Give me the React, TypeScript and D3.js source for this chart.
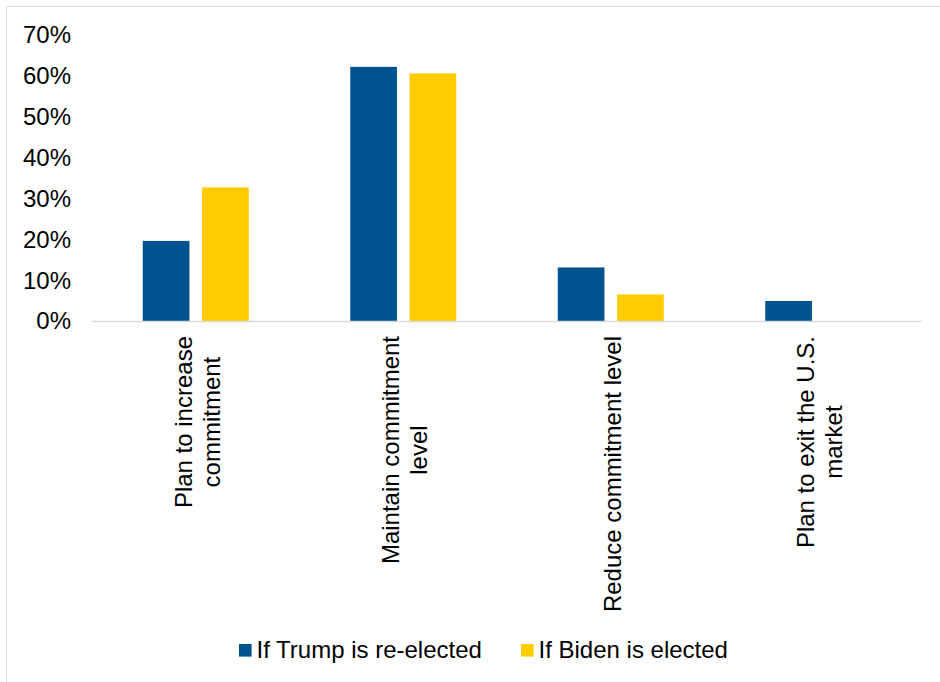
import React, { useEffect, useRef } from "react";
import * as d3 from "d3";

const categories: string[][] = [
  ["Plan to increase", "commitment"],
  ["Maintain commitment", "level"],
  ["Reduce commitment level"],
  ["Plan to exit the U.S.", "market"],
];
const seriesNames = ["If Trump is re-elected", "If Biden is elected"];
const trumpValues = [19.6, 62.2, 13.1, 4.9];
const bidenValues = [32.7, 60.6, 6.5, 0];
const yTicks = [0, 10, 20, 30, 40, 50, 60, 70];
const colors = ["#00538F", "#FFCC00"];

const W = 940;
const H = 682;
const FONT = "'Liberation Sans', Arial, sans-serif";
const FS = 24;

export default function App() {
  const ref = useRef<SVGSVGElement | null>(null);

  useEffect(() => {
    const svg = d3.select(ref.current);
    svg.selectAll("*").remove();

    // outer border
    svg
      .append("rect")
      .attr("x", 6.5)
      .attr("y", 6.5)
      .attr("width", W + 20)
      .attr("height", H + 20)
      .attr("fill", "white")
      .attr("stroke", "#d9d9d9")
      .attr("stroke-width", 1);

    const x0 = d3.scaleBand<number>().domain(d3.range(categories.length)).range([92, 922]);
    const y = d3.scaleLinear().domain([0, 70]).range([321, 35]);
    const barW = 46.7;
    const gap = 12.6;

    // y tick labels
    svg
      .append("g")
      .selectAll("text")
      .data(yTicks)
      .join("text")
      .attr("x", 71)
      .attr("y", (d) => y(d))
      .attr("dy", "0.35em")
      .attr("text-anchor", "end")
      .attr("font-family", FONT)
      .attr("font-size", FS)
      .attr("fill", "#000")
      .text((d) => `${d}%`);

    const data = categories.map((_, i) => [trumpValues[i], bidenValues[i]]);

    const groups = svg
      .append("g")
      .selectAll("g")
      .data(data)
      .join("g")
      .attr("transform", (_, i) => `translate(${x0(i)! + x0.bandwidth() / 2},0)`);

    groups
      .selectAll("rect")
      .data((d) => d)
      .join("rect")
      .attr("x", (_, j) => (j === 0 ? -gap / 2 - barW : gap / 2))
      .attr("width", barW)
      .attr("y", (d) => y(d))
      .attr("height", (d) => y(0) - y(d))
      .attr("fill", (_, j) => colors[j]);

    // axis line
    svg
      .append("line")
      .attr("x1", 92)
      .attr("x2", 922)
      .attr("y1", y(0) + 0.5)
      .attr("y2", y(0) + 0.5)
      .attr("stroke", "#d9d9d9")
      .attr("stroke-width", 1.5);

    // category labels (rotated)
    const lineH = 28.2;
    categories.forEach((lines, i) => {
      const cx = x0(i)! + x0.bandwidth() / 2 + 1.5;
      const g = svg.append("g");
      const texts = lines.map((t) =>
        g
          .append("text")
          .attr("font-family", FONT)
          .attr("font-size", FS)
          .attr("fill", "#000")
          .attr("text-anchor", "middle")
          .text(t)
      );
      const maxLen = d3.max(texts, (t) => (t.node() as SVGTextElement).getComputedTextLength()) || 0;
      const cy = 336 + maxLen / 2;
      const n = lines.length;
      texts.forEach((t, k) => {
        const off = (k - (n - 1) / 2) * lineH;
        t.attr("transform", `translate(${cx + off},${cy}) rotate(-90)`).attr("dy", "0.35em");
      });
    });

    // legend
    const legendX = [239, 521];
    seriesNames.forEach((name, i) => {
      svg
        .append("rect")
        .attr("x", legendX[i])
        .attr("y", 644)
        .attr("width", 12.6)
        .attr("height", 12.6)
        .attr("fill", colors[i]);
      svg
        .append("text")
        .attr("x", legendX[i] + 17.5)
        .attr("y", 658)
        .attr("font-family", FONT)
        .attr("font-size", FS)
        .attr("fill", "#000")
        .text(name);
    });
  }, []);

  return (
    <svg
      ref={ref}
      width={W}
      height={H}
      style={{ position: "absolute", left: 0, top: 0, display: "block", background: "white" }}
    />
  );
}
